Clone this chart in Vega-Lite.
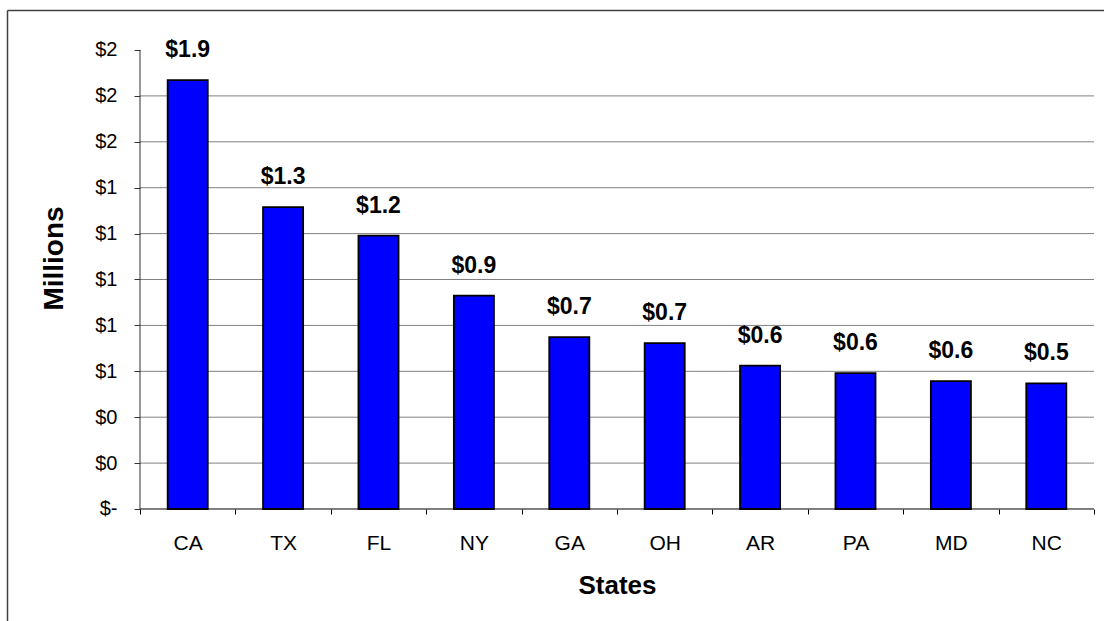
{
  "$schema": "https://vega.github.io/schema/vega-lite/v6.json",
  "width": 1097,
  "height": 611,
  "autosize": "none",
  "padding": {"left": 7, "top": 10, "right": 0, "bottom": 0},
  "background": "white",
  "config": {
    "view": {"stroke": null},
    "font": "Liberation Sans"
  },
  "datasets": {
    "states": [
      {"state": "CA", "value": 1.869},
      {"state": "TX", "value": 1.315},
      {"state": "FL", "value": 1.191},
      {"state": "NY", "value": 0.930},
      {"state": "GA", "value": 0.749},
      {"state": "OH", "value": 0.723},
      {"state": "AR", "value": 0.625},
      {"state": "PA", "value": 0.592},
      {"state": "MD", "value": 0.557},
      {"state": "NC", "value": 0.547}
    ],
    "grid": [
      {"v": 0.2, "from": "CA", "to": "NC"},
      {"v": 0.4, "from": "CA", "to": "NC"},
      {"v": 0.6, "from": "CA", "to": "NC"},
      {"v": 0.8, "from": "CA", "to": "NC"},
      {"v": 1.0, "from": "CA", "to": "NC"},
      {"v": 1.2, "from": "CA", "to": "NC"},
      {"v": 1.4, "from": "CA", "to": "NC"},
      {"v": 1.6, "from": "CA", "to": "NC"},
      {"v": 1.8, "from": "CA", "to": "NC"}
    ],
    "base": [
      {"v": 0, "top": 2, "from": "CA", "to": "NC"}
    ]
  },
  "resolve": {"axis": {"x": "independent", "y": "independent"}},
  "layer": [
    {
      "data": {"name": "grid"},
      "mark": {"type": "rule", "color": "#808080", "strokeWidth": 1},
      "encoding": {
        "x": {"field": "from", "type": "nominal", "bandPosition": 0, "axis": null,
              "scale": {"domain": ["CA", "TX", "FL", "NY", "GA", "OH", "AR", "PA", "MD", "NC"], "paddingInner": 0, "paddingOuter": 0.7495, "align": 0.93}},
        "x2": {"field": "to", "bandPosition": 1},
        "y": {"field": "v", "type": "quantitative", "axis": null,
              "scale": {"domain": [-0.48802, 2.17429], "nice": false, "zero": false}}
      }
    },
    {
      "data": {"name": "states"},
      "mark": {"type": "bar", "color": "#0000FF", "stroke": "black", "strokeWidth": 1.8, "width": {"band": 0.42}},
      "encoding": {
        "x": {"field": "state", "type": "nominal", "sort": null,
              "scale": {"domain": ["CA", "TX", "FL", "NY", "GA", "OH", "AR", "PA", "MD", "NC"], "paddingInner": 0, "paddingOuter": 0.7495, "align": 0.93},
              "axis": {"orient": "top", "title": null, "labels": false, "ticks": false, "grid": false, "domain": true, "domainColor": "#404040", "domainWidth": 1.5}},
        "y": {"field": "value", "type": "quantitative",
              "scale": {"domain": [-0.48802, 2.17429], "nice": false, "zero": false},
              "axis": {"orient": "left", "title": null, "labels": false, "ticks": false, "grid": false, "domain": true, "domainColor": "#404040", "domainWidth": 1.5}}
      }
    },
    {
      "data": {"name": "states"},
      "mark": {"type": "text", "baseline": "alphabetic", "dy": -23, "fontSize": 23, "fontWeight": "bold", "color": "black", "font": "Liberation Sans"},
      "encoding": {
        "x": {"field": "state", "type": "nominal", "sort": null,
              "scale": {"domain": ["CA", "TX", "FL", "NY", "GA", "OH", "AR", "PA", "MD", "NC"], "paddingInner": 0, "paddingOuter": 0.7495, "align": 0.93},
              "axis": {
                "orient": "bottom",
                "offset": -112,
                "title": "States",
                "titleFont": "Liberation Sans",
                "titleFontSize": 26,
                "titleFontWeight": "bold",
                "titleColor": "black",
                "titleBaseline": "alphabetic",
                "titleAlign": "center",
                "titleX": 610,
                "titleY": 84,
                "labelAngle": 0,
                "labelFontSize": 21,
                "labelColor": "black",
                "labelPadding": 18,
                "tickBand": "extent",
                "tickSize": 5,
                "tickColor": "black",
                "domain": false,
                "grid": false
              }},
        "y": {"field": "value", "type": "quantitative",
              "scale": {"domain": [-0.48802, 2.17429], "nice": false, "zero": false},
              "axis": {
                "orient": "left",
                "offset": -133,
                "title": "Millions",
                "titleFont": "Liberation Sans",
                "titleFontSize": 28,
                "titleFontWeight": "bold",
                "titleColor": "black",
                "titleAngle": 270,
                "titleBaseline": "alphabetic",
                "titleAlign": "center",
                "titleX": -78,
                "titleY": 248,
                "values": [0, 0.2, 0.4, 0.6, 0.8, 1.0, 1.2, 1.4, 1.6, 1.8, 2.0],
                "labelExpr": "datum.value == 0 ? '$-' : '$' + format(datum.value, '.0f')",
                "labelFontSize": 20,
                "labelColor": "black",
                "labelPadding": 17,
                "tickSize": 6,
                "tickColor": "#333333",
                "domain": false,
                "grid": false
              }},
        "text": {"field": "value", "type": "quantitative", "format": "$.1f"}
      }
    },
    {
      "data": {"name": "base"},
      "mark": {"type": "rule", "color": "black", "strokeWidth": 1},
      "encoding": {
        "x": {"field": "from", "type": "nominal", "bandPosition": 0, "axis": null,
              "scale": {"domain": ["CA", "TX", "FL", "NY", "GA", "OH", "AR", "PA", "MD", "NC"], "paddingInner": 0, "paddingOuter": 0.7495, "align": 0.93}},
        "x2": {"field": "to", "bandPosition": 1},
        "y": {"field": "v", "type": "quantitative", "axis": null,
              "scale": {"domain": [-0.48802, 2.17429], "nice": false, "zero": false}}
      }
    },
    {
      "data": {"name": "base"},
      "mark": {"type": "rule", "color": "#333333", "strokeWidth": 1},
      "encoding": {
        "x": {"field": "from", "type": "nominal", "bandPosition": 0, "axis": null,
              "scale": {"domain": ["CA", "TX", "FL", "NY", "GA", "OH", "AR", "PA", "MD", "NC"], "paddingInner": 0, "paddingOuter": 0.7495, "align": 0.93}},
        "y": {"field": "v", "type": "quantitative", "axis": null,
              "scale": {"domain": [-0.48802, 2.17429], "nice": false, "zero": false}},
        "y2": {"field": "top"}
      }
    }
  ]
}
